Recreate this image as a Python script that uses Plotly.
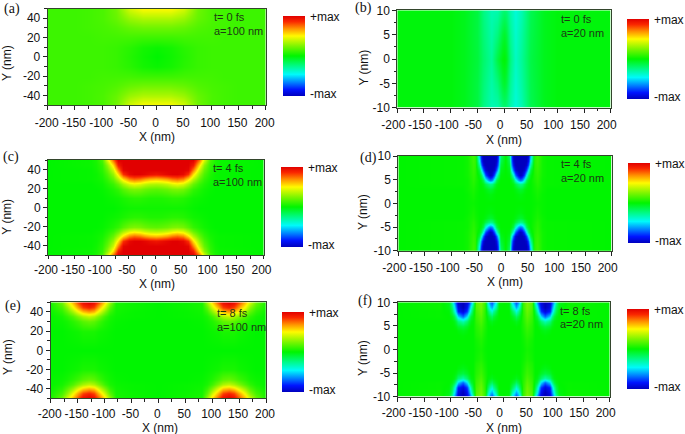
import plotly.graph_objects as go

W, H = 685, 434
FONT = "Liberation Sans"

COLORSCALE = [
    [0.00, "rgb(0,0,190)"], [0.08, "rgb(0,20,255)"], [0.17, "rgb(0,130,255)"],
    [0.27, "rgb(0,250,250)"], [0.38, "rgb(0,250,130)"], [0.50, "rgb(0,245,0)"],
    [0.62, "rgb(120,245,0)"], [0.75, "rgb(255,250,0)"], [0.84, "rgb(255,150,0)"],
    [0.93, "rgb(250,40,0)"], [1.00, "rgb(225,0,0)"],
]

# Half-grids: |x| columns, y rows from the edge to the centre
a_x = [0, 25, 50, 75, 100, 125, 150, 175, 200]
a_y = [50, 40, 30, 20, 10, 0]
a_z = [
    [.50, .50, .42, .22, .15, .13, .12, .12, .12],
    [.34, .34, .30, .20, .15, .13, .12, .12, .12],
    [.22, .22, .20, .16, .14, .13, .12, .12, .12],
    [.12, .12, .13, .13, .13, .12, .12, .12, .12],
    [.02, .04, .08, .11, .12, .12, .12, .12, .12],
    [.00, .03, .07, .11, .12, .12, .12, .12, .12],
]

b_x = [-200, -100, -75, -50, -38, -23, -12, -4, 0, 5, 12, 21, 32, 50, 75, 100, 200]
b_y = [10, 5, 0]
b_z = [
    [-.02, -.02, -.05, -.12, -.24, -.33, -.32, -.22, -.20, -.22, -.32, -.40, -.33, -.15, -.05, -.02, -.02],
    [-.02, -.02, -.05, -.12, -.22, -.31, -.23, -.10, -.08, -.12, -.28, -.38, -.30, -.14, -.05, -.02, -.02],
    [-.02, -.02, -.05, -.11, -.20, -.28, -.12, -.02, -.01, -.05, -.24, -.36, -.28, -.13, -.05, -.02, -.02],
]

c_x = [0, 10, 20, 30, 40, 50, 60, 70, 80, 90, 100, 110, 120, 200]
c_y = [50, 45, 40, 35, 30, 25, 20, 10, 0]
c_z = [
    [1, 1, 1, 1, 1, 1, 1, 1, .75, .42, .14, .05, .02, 0],
    [1, 1, 1, 1, 1, 1, 1, .90, .55, .28, .10, .04, .02, 0],
    [1, 1, 1, 1, 1, 1, .98, .72, .40, .20, .08, .03, .01, 0],
    [.93, .95, .98, 1, 1, .97, .85, .55, .30, .15, .06, .02, .01, 0],
    [.60, .62, .66, .72, .75, .70, .55, .36, .20, .10, .04, .02, .01, 0],
    [.34, .35, .38, .43, .46, .42, .32, .20, .11, .06, .02, .01, 0, 0],
    [.18, .19, .21, .24, .25, .23, .17, .10, .06, .03, .01, 0, 0, 0],
    [.06, .06, .07, .08, .08, .07, .05, .03, .02, .01, 0, 0, 0, 0],
    [.03, .03, .03, .03, .03, .03, .02, .01, 0, 0, 0, 0, 0, 0],
]

d_x = [0, 8, 12, 16, 20, 24, 28, 32, 36, 40, 44, 48, 55, 60, 70, 80, 200]
d_y = [10, 9, 8, 7, 6, 5, 4, 3, 2, 0]
d_z = [
    [0, -.20, -.75, -.98, -1, -1, -1, -1, -1, -1, -.92, -.55, .08, .12, .03, .01, 0],
    [0, -.15, -.70, -.96, -1, -1, -1, -1, -1, -1, -.85, -.45, .08, .12, .03, .01, 0],
    [0, -.10, -.62, -.90, -1, -1, -1, -1, -1, -.95, -.72, -.30, .08, .11, .03, .01, 0],
    [0, -.05, -.45, -.72, -.95, -1, -1, -1, -.95, -.75, -.45, -.12, .07, .10, .03, .01, 0],
    [0, -.02, -.20, -.42, -.72, -.92, -1, -.92, -.75, -.45, -.18, -.04, .06, .09, .03, .01, 0],
    [0, 0, -.05, -.15, -.40, -.62, -.70, -.62, -.42, -.16, -.05, 0, .05, .08, .02, .01, 0],
    [0, 0, -.01, -.04, -.12, -.22, -.26, -.22, -.13, -.05, -.01, 0, .04, .07, .02, .01, 0],
    [0, 0, 0, -.01, -.03, -.07, -.09, -.07, -.03, -.01, 0, 0, .03, .05, .02, 0, 0],
    [0, 0, 0, 0, -.01, -.02, -.03, -.02, -.01, 0, 0, 0, .02, .04, .01, 0, 0],
    [0, 0, 0, 0, 0, 0, 0, 0, 0, 0, 0, 0, .01, .02, .01, 0, 0],
]

e_x = [0, 50, 80, 90, 100, 110, 120, 130, 140, 150, 160, 170, 180, 200]
e_y = [50, 45, 40, 35, 30, 20, 0]
e_z = [
    [0, .02, .05, .30, .55, .78, .95, 1, .95, .80, .62, .42, .22, .05],
    [0, .02, .04, .18, .40, .62, .82, .88, .82, .66, .48, .28, .14, .04],
    [0, .01, .03, .10, .24, .42, .58, .62, .56, .44, .30, .17, .08, .02],
    [0, .01, .02, .05, .12, .24, .34, .38, .33, .25, .16, .09, .04, .01],
    [0, 0, .01, .03, .06, .12, .18, .20, .17, .12, .08, .04, .02, .01],
    [0, 0, 0, .01, .02, .03, .05, .05, .05, .03, .02, .01, 0, 0],
    [0, 0, 0, 0, 0, 0, 0, 0, 0, 0, 0, 0, 0, 0],
]

f_x = [0, 10, 16, 20, 23, 26, 30, 36, 44, 52, 58, 62, 66, 70, 78, 86, 90, 94, 98, 104, 120, 200]
f_y = [10, 9, 8, 7, 6, 5, 4, 3, 2, 0]
f_z = [
    [0, -.02, -.45, -.65, -.75, -.65, -.45, .10, .25, .18, -.35, -.60, -.80, -.92, -1, -.95, -.75, -.55, -.30, -.05, .02, 0],
    [0, -.01, -.30, -.50, -.60, -.50, -.30, .10, .23, .16, -.20, -.42, -.68, -.88, -1, -.90, -.65, -.42, -.20, -.03, .02, 0],
    [0, 0, -.15, -.30, -.40, -.30, -.15, .08, .21, .13, -.10, -.30, -.55, -.78, -.92, -.82, -.55, -.32, -.14, -.01, .01, 0],
    [0, 0, -.05, -.12, -.18, -.12, -.05, .07, .18, .11, -.04, -.10, -.28, -.50, -.70, -.52, -.28, -.12, -.04, 0, .01, 0],
    [0, 0, -.01, -.03, -.05, -.03, -.01, .06, .15, .09, -.01, -.03, -.10, -.20, -.32, -.22, -.10, -.03, -.01, 0, 0, 0],
    [0, 0, 0, 0, -.01, 0, 0, .05, .12, .07, 0, 0, -.03, -.07, -.12, -.08, -.03, -.01, 0, 0, 0, 0],
    [0, 0, 0, 0, 0, 0, 0, .04, .10, .06, 0, 0, 0, -.02, -.04, -.02, 0, 0, 0, 0, 0, 0],
    [0, 0, 0, 0, 0, 0, 0, .03, .08, .05, 0, 0, 0, 0, -.01, 0, 0, 0, 0, 0, 0, 0],
    [0, 0, 0, 0, 0, 0, 0, .02, .06, .03, 0, 0, 0, 0, 0, 0, 0, 0, 0, 0, 0, 0],
    [0, 0, 0, 0, 0, 0, 0, .01, .04, .02, 0, 0, 0, 0, 0, 0, 0, 0, 0, 0, 0, 0],
]

x_ticks = [-200, -150, -100, -50, 0, 50, 100, 150, 200]
x_tick_labels = ["-200", "-150", "-100", "-50", "0", "50", "100", "150", "200"]
y_ticks_wide = [-40, -20, 0, 20, 40]
y_labels_wide = ["-40", "-20", "0", "20", "40"]
y_ticks_narrow = [-10, -5, 0, 5, 10]
y_labels_narrow = ["-10", "-5", "0", "5", "10"]
cbar_vals = [-0.95, 0.97]
cbar_text = ["-max", "+max"]

# Layout of each panel, in pixels of the picture
PANELS = [
    dict(tag="(a)", t="t= 0 fs", a="a=100 nm", x=a_x, y=a_y, z=a_z, half=True, ymax=50,
         yt=y_ticks_wide, yl=y_labels_wide,
         box=(47.7, 265.7, 8.5, 105), cb=(283, 15.7, 80.3), tagpos=(2, 9), tpos=(212, 17, 31), shift=-1, off=3, tlen=4,
         ytitle=(7, 63), xtitle=(156.7, 137)),
    dict(tag="(b)", t="t= 0 fs", a="a=20 nm", x=b_x, y=b_y, z=b_z, half=False, ymax=10,
         yt=y_ticks_narrow, yl=y_labels_narrow,
         box=(397.3, 610.7, 10.3, 107.7), cb=(627, 19, 80), tagpos=(353, 8), tpos=(559, 19, 33), shift=-4, off=2, tlen=4,
         ytitle=(363, 67.5), xtitle=(504, 140)),
    dict(tag="(c)", t="t= 4 fs", a="a=100 nm", x=c_x, y=c_y, z=c_z, half=True, ymax=50,
         yt=y_ticks_wide, yl=y_labels_wide,
         box=(48, 263.5, 160, 255.3), cb=(281, 166.7, 80), tagpos=(1, 157), tpos=(211, 168.3, 182.3), shift=-2, off=0, tlen=3,
         ytitle=(7, 216.7), xtitle=(157, 283.5)),
    dict(tag="(d)", t="t= 4 fs", a="a=20 nm", x=d_x, y=d_y, z=d_z, half=True, ymax=10,
         yt=y_ticks_narrow, yl=y_labels_narrow,
         box=(398.3, 611.7, 156, 250.7), cb=(628, 162.7, 79.6), tagpos=(358, 158), tpos=(559, 164.3, 178.3), shift=-4, off=2, tlen=4,
         ytitle=(363, 212), xtitle=(505, 282)),
    dict(tag="(e)", t="t= 8 fs", a="a=100 nm", x=e_x, y=e_y, z=e_z, half=True, ymax=50,
         yt=y_ticks_wide, yl=y_labels_wide,
         box=(50.7, 266, 302.3, 398.3), cb=(282, 312, 79.7), tagpos=(3, 306), tpos=(215, 313.3, 327.3), shift=-1, off=0, tlen=4,
         ytitle=(8, 357), xtitle=(160, 427.5)),
    dict(tag="(f)", t="t= 8 fs", a="a=20 nm", x=f_x, y=f_y, z=f_z, half=True, ymax=10,
         yt=y_ticks_narrow, yl=y_labels_narrow,
         box=(397.7, 609.7, 302.3, 396.7), cb=(627, 309, 80), tagpos=(356, 301), tpos=(558, 310.7, 324), shift=-4, off=1, tlen=4,
         ytitle=(363, 358), xtitle=(504, 427.5)),
]


def full_grid(p):
    """Rebuild the whole panel from the read half-grid; panels are mirrored about y=0 (and x=0 when half)."""
    ys = [-v for v in p["y"][:-1]] + p["y"][::-1]
    rows = p["z"][:-1] + p["z"][::-1]
    if p["half"]:
        xs = [-v for v in p["x"][:0:-1]] + p["x"]
        rows = [r[:0:-1] + r for r in rows]
    else:
        xs = p["x"]
    return xs, ys, rows


fig = go.Figure()
annotations = []
layout = {}


def note(text, x, y, size, family=FONT, color="#1c3a14", angle=0, anchor="left"):
    annotations.append(dict(text=text, x=x / W, y=1 - y / H, xref="paper", yref="paper",
                            xanchor=anchor, yanchor="middle", showarrow=False, textangle=angle,
                            font=dict(family=family, size=size, color=color)))


for i, p in enumerate(PANELS, start=1):
    xs, ys, zs = full_grid(p)
    l, r, t, b = p["box"]
    cx, cy, clen = p["cb"]
    suffix = "" if i == 1 else str(i)
    fig.add_trace(go.Heatmap(
        x=xs, y=ys, z=zs, zmin=-1, zmax=1, zsmooth="best", colorscale=COLORSCALE,
        xaxis="x" + suffix, yaxis="y" + suffix,
        colorbar=dict(x=cx / W, xanchor="left", y=1 - cy / H, yanchor="top",
                      xpad=0, ypad=0,
                      thickness=22, thicknessmode="pixels", len=clen, lenmode="pixels",
                      outlinewidth=0, ticks="outside", ticklen=3, tickcolor="rgba(0,0,0,0)",
                      tickmode="array", tickvals=cbar_vals, ticktext=cbar_text,
                      tickfont=dict(family=FONT, size=12, color="#111")),
    ))
    layout["xaxis" + suffix] = dict(
        domain=[l / W, r / W], anchor="y" + suffix, range=[-200, 200],
        tickmode="array", tickvals=x_ticks, ticktext=x_tick_labels, ticks="outside", ticklen=p["tlen"], tickwidth=1, tickangle=0,
        tickcolor="#222", ticklabelshift=p["shift"], ticklabelstandoff=p["off"],
        minor=dict(tickmode="array", tickvals=[v + 25 for v in x_ticks[:-1]], ticks="outside", ticklen=2.5,
                   tickcolor="#222", tickwidth=1, showgrid=False),
        showgrid=False, zeroline=False, showline=True, mirror=True, linecolor="#33452c", linewidth=1,
        tickfont=dict(family=FONT, size=12, color="#111"),
    )
    yt = p["yt"]
    step = yt[1] - yt[0]
    layout["yaxis" + suffix] = dict(
        domain=[1 - b / H, 1 - t / H], anchor="x" + suffix, range=[-p["ymax"], p["ymax"]],
        tickmode="array", tickvals=yt, ticktext=p["yl"], ticks="outside", ticklen=4, tickwidth=1, tickcolor="#222",
        minor=dict(tickmode="array", tickvals=[v + step / 2 for v in yt[:-1]] + [yt[0] - step / 2, yt[-1] + step / 2],
                   ticks="outside", ticklen=2.5, tickcolor="#222", tickwidth=1, showgrid=False),
        showgrid=False, zeroline=False, showline=True, mirror=True, linecolor="#33452c", linewidth=1,
        tickfont=dict(family=FONT, size=12, color="#111"),
    )
    note(p["tag"], p["tagpos"][0], p["tagpos"][1], 14, family="Liberation Serif", color="#111")
    note("Y (nm)", p["ytitle"][0], p["ytitle"][1], 12, color="#111", angle=-90, anchor="center")
    note("X (nm)", p["xtitle"][0], p["xtitle"][1], 12, color="#111", anchor="center")
    tx, ty1, ty2 = p["tpos"]
    note(p["t"], tx, ty1, 11)
    note(p["a"], tx, ty2, 11)

fig.update_layout(
    width=W, height=H, margin=dict(l=0, r=0, t=0, b=0, autoexpand=False), autosize=False,
    paper_bgcolor="white", plot_bgcolor="white", annotations=annotations, **layout,
)
fig.write_html("out.html", config={"displayModeBar": False},
               post_script="document.body.style.margin='0';document.body.style.overflow='hidden';")
